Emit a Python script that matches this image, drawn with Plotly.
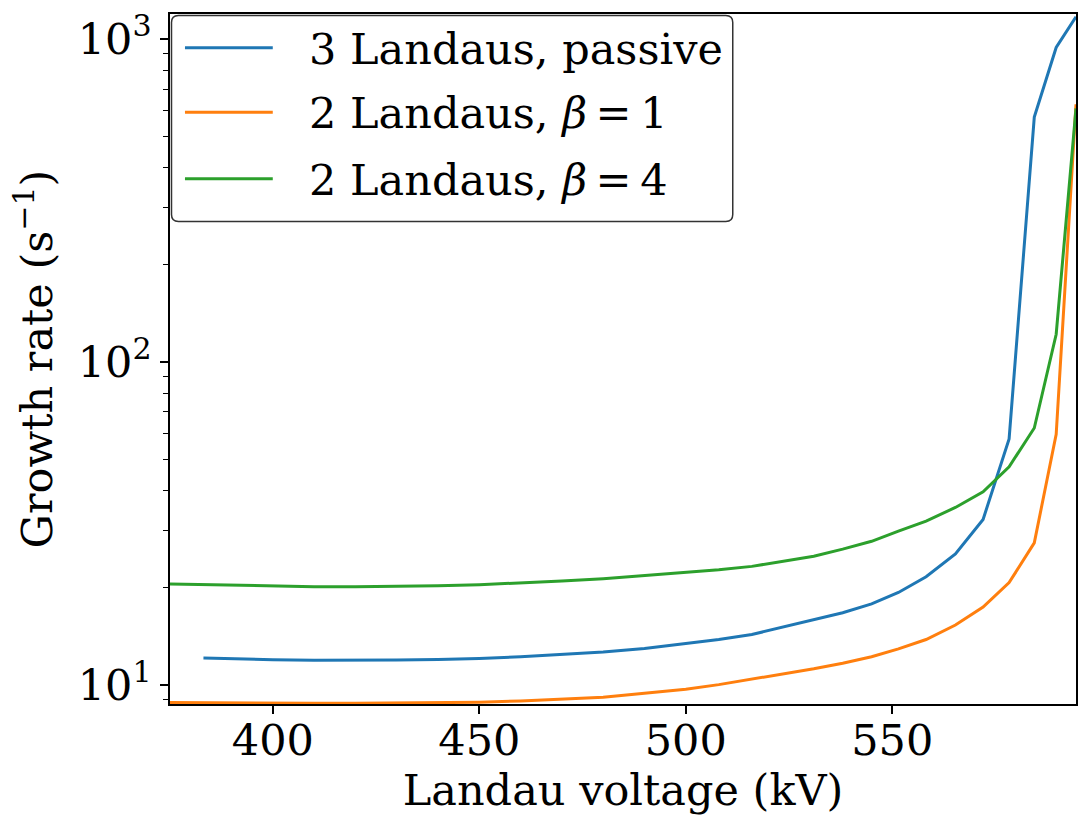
import math
import plotly.graph_objects as go

# Landau voltage (kV)
voltage = [375.1, 383.2, 392, 400, 410, 420, 430, 440, 450, 460, 470, 480, 490, 500,
           508, 516, 524, 531, 538, 545, 551.5, 558.2, 565.3, 572.0, 578.3, 584.4,
           589.7, 594.5]
voltage_passive = voltage[1:]

# Growth rates (s^-1)
rate_3_passive = [12.09, 12.0, 11.95, 11.91, 11.9, 11.92, 11.97, 12.05, 12.2, 12.4,
                  12.62, 12.95, 13.42, 13.8, 14.3, 15.1, 15.85, 16.7, 17.8, 19.3,
                  21.6, 25.4, 32.5, 57.7, 573, 942, 1172]
rate_2_beta1 = [8.81, 8.79, 8.77, 8.76, 8.75, 8.75, 8.76, 8.78, 8.82, 8.9, 9.0, 9.14,
                9.4, 9.68, 10.0, 10.4, 10.8, 11.2, 11.65, 12.2, 12.9, 13.8, 15.3,
                17.4, 20.7, 27.5, 59.6, 628]
rate_2_beta4 = [20.5, 20.4, 20.3, 20.2, 20.12, 20.1, 20.15, 20.25, 20.4, 20.65, 20.95,
                21.3, 21.75, 22.25, 22.7, 23.25, 24.1, 25.0, 26.3, 27.8, 29.9, 32.1,
                35.4, 39.6, 47.3, 62.4, 121.8, 610]

names = ["3 Landaus, passive", "2 Landaus, <i>β</i>\u2009=\u20091",
         "2 Landaus, <i>β</i>\u2009=\u20094"]
colors = ["#1f77b4", "#ff7f0e", "#2ca02c"]

xticks = [400, 450, 500, 550]
yticks = [10, 100, 1000]
yticktext = ["10<sup>1</sup>", "10<sup>2</sup>", "10<sup>3</sup>"]
yminor = [m * d for d in (1, 10, 100) for m in range(2, 10)]

FONT = "DejaVu Serif"
FS = 43

fig = go.Figure()
series = [(voltage_passive, rate_3_passive), (voltage, rate_2_beta1), (voltage, rate_2_beta4)]
for (xs, ys), name, c in zip(series, names, colors):
    fig.add_trace(go.Scatter(x=xs, y=ys, mode="lines", name=name,
                             line=dict(color=c, width=3), showlegend=False))

axis_common = dict(showline=True, linecolor="black", linewidth=1.6, mirror=True,
                   showgrid=False, zeroline=False, ticks="outside",
                   tickcolor="black", tickwidth=1.5,
                   tickfont=dict(family=FONT, size=FS, color="black"))

fig.update_xaxes(range=[375.1, 594.5], tickvals=xticks, ticklen=8, ticklabelstandoff=-10,
                 title=dict(text="Landau voltage (kV)",
                            font=dict(family=FONT, size=FS, color="black"), standoff=0),
                 **axis_common)
fig.update_yaxes(type="log", range=[math.log10(8.71), math.log10(1196)],
                 tickvals=yticks, ticktext=yticktext, ticklen=8,
                 minor=dict(tickvals=yminor, ticklen=5, tickwidth=1.2,
                            tickcolor="black", ticks="outside"),
                 title=dict(text="Growth rate (s<sup>−1</sup>)",
                            font=dict(family=FONT, size=FS, color="black"), standoff=12),
                 **axis_common)

# Legend box (matplotlib style, rounded corners) in axis-domain coordinates
W, H = 908.0, 695.0  # plot area size in px
def px(xp):  # px offset from plot left -> domain fraction
    return xp / W
def py(yp):  # px offset from plot top -> domain fraction
    return 1 - yp / H

x0, x1, y0, y1, r = 1.5, 564.0, 1.5, 209.0, 7.0
path = (f"M{px(x0 + r)},{py(y0)} L{px(x1 - r)},{py(y0)} Q{px(x1)},{py(y0)} {px(x1)},{py(y0 + r)} "
        f"L{px(x1)},{py(y1 - r)} Q{px(x1)},{py(y1)} {px(x1 - r)},{py(y1)} "
        f"L{px(x0 + r)},{py(y1)} Q{px(x0)},{py(y1)} {px(x0)},{py(y1 - r)} "
        f"L{px(x0)},{py(y0 + r)} Q{px(x0)},{py(y0)} {px(x0 + r)},{py(y0)} Z")
shapes = [dict(type="path", xref="x domain", yref="y domain", path=path,
               fillcolor="rgba(255,255,255,0.85)", line=dict(color="#333333", width=1.5))]
annotations = []
row_y = [34, 99, 166]
for name, c, ry in zip(names, colors, row_y):
    shapes.append(dict(type="line", xref="x domain", yref="y domain",
                       x0=px(15), x1=px(103), y0=py(ry), y1=py(ry),
                       line=dict(color=c, width=3)))
    annotations.append(dict(xref="x domain", yref="y domain", x=px(137), y=py(ry + 1),
                            xanchor="left", yanchor="middle", showarrow=False, text=name,
                            font=dict(family=FONT, size=FS, color="black")))

fig.update_layout(
    width=1086, height=819,
    margin=dict(l=170, r=8, t=9, b=115),
    paper_bgcolor="white", plot_bgcolor="white",
    font=dict(family=FONT, size=FS, color="black"),
    showlegend=False,
    shapes=shapes, annotations=annotations,
)

fig.write_html("out.html")
